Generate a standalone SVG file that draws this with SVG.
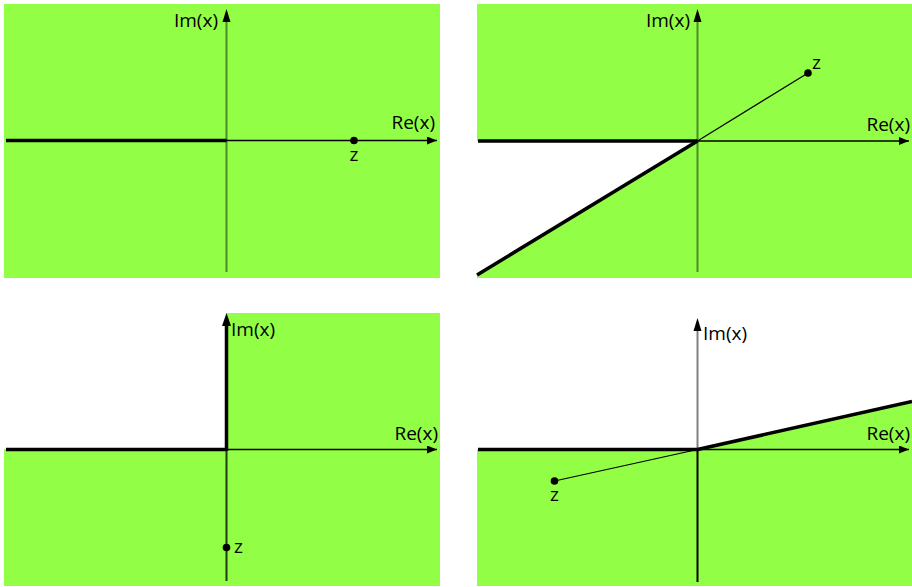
<svg xmlns="http://www.w3.org/2000/svg" width="912" height="587" viewBox="0 0 912 587">
<defs>
<style>
.g{fill:#92fe45}
.w{fill:#fff}
.thick{stroke:#000;stroke-width:3.5;fill:none;stroke-linecap:butt}
.thin{stroke:#000;stroke-width:1.2;fill:none}
.ax{stroke:#000;stroke-width:1.5;fill:none}
.vax{stroke:#4b8c2b;stroke-width:2;fill:none}
.lbl{font-family:"Open Sans","Liberation Sans",sans-serif;font-size:19px;fill:#000}
.pt{fill:#000}
</style>
<marker id="ah" viewBox="0 0 10 8" refX="10" refY="4" markerWidth="10" markerHeight="8" markerUnits="userSpaceOnUse" orient="auto">
<path d="M0,0 L10,4 L0,8 Z" fill="#000"/>
</marker>
</defs>

<g id="panel1">
<rect class="g" x="4" y="4" width="436" height="274"/>
<line class="vax" x1="226.5" y1="272" x2="226.5" y2="18"/>
<path d="M222.5,22 L226.5,9 L230.5,22 Z" fill="#000"/>
<line class="ax" x1="226" y1="140.5" x2="437" y2="140.5" marker-end="url(#ah)"/>
<line class="thick" x1="6" y1="140.5" x2="226.5" y2="140.5"/>
<circle class="pt" cx="354" cy="140.5" r="3.8"/>
<text class="lbl" x="354" y="161" text-anchor="middle">z</text>
<text class="lbl" x="435" y="129" text-anchor="end">Re(x)</text>
<text class="lbl" x="218" y="27" text-anchor="end">Im(x)</text>
</g>

<g id="panel2">
<rect class="g" x="477" y="4" width="435" height="274"/>
<polygon class="w" points="477,141 697.5,141 477,276"/>
<line class="vax" x1="697.5" y1="272" x2="697.5" y2="18"/>
<path d="M693.5,22 L697.5,9 L701.5,22 Z" fill="#000"/>
<line class="ax" x1="697.5" y1="141" x2="909" y2="141" marker-end="url(#ah)"/>
<line class="thick" x1="478" y1="141" x2="697.5" y2="141"/>
<line class="thick" x1="697.5" y1="141" x2="477" y2="275"/>
<line class="thin" x1="697.5" y1="141" x2="808" y2="73"/>
<circle class="pt" cx="808" cy="73" r="3.8"/>
<text class="lbl" x="812" y="69">z</text>
<text class="lbl" x="910" y="131" text-anchor="end">Re(x)</text>
<text class="lbl" x="690" y="27" text-anchor="end">Im(x)</text>
</g>

<g id="panel3">
<rect class="g" x="4" y="313" width="436" height="273"/>
<rect class="w" x="4" y="313" width="222.5" height="136"/>
<line x1="226.5" y1="449" x2="226.5" y2="581" stroke="#1e3d12" stroke-width="2"/>
<line class="ax" x1="226" y1="449.5" x2="437" y2="449.5" marker-end="url(#ah)"/>
<line class="thick" x1="6" y1="449.5" x2="226.5" y2="449.5"/>
<line class="thick" x1="226.5" y1="451" x2="226.5" y2="322"/>
<path d="M222,326 L226.5,313 L231,326 Z" fill="#000"/>
<circle class="pt" cx="226.5" cy="547.5" r="3.8"/>
<text class="lbl" x="234" y="553">z</text>
<text class="lbl" x="438" y="440" text-anchor="end">Re(x)</text>
<text class="lbl" x="231" y="336">Im(x)</text>
</g>

<g id="panel4">
<polygon class="g" points="477,449.5 697.5,449.5 912,401 912,586 477,586"/>
<line x1="697.5" y1="449" x2="697.5" y2="325" stroke="#808080" stroke-width="2"/>
<path d="M693.5,331 L697.5,318 L701.5,331 Z" fill="#000"/>
<line x1="697.5" y1="449" x2="697.5" y2="582" stroke="#000" stroke-width="2"/>
<line class="ax" x1="697.5" y1="449.5" x2="909" y2="449.5" marker-end="url(#ah)"/>
<line class="thick" x1="478" y1="449.5" x2="697.5" y2="449.5"/>
<line class="thick" x1="697.5" y1="449.5" x2="912" y2="401.5"/>
<line class="thin" x1="697.5" y1="449.5" x2="554.5" y2="481"/>
<circle class="pt" cx="554.5" cy="481" r="3.8"/>
<text class="lbl" x="554.5" y="501" text-anchor="middle">z</text>
<text class="lbl" x="910" y="440" text-anchor="end">Re(x)</text>
<text class="lbl" x="703" y="340">Im(x)</text>
</g>
</svg>
